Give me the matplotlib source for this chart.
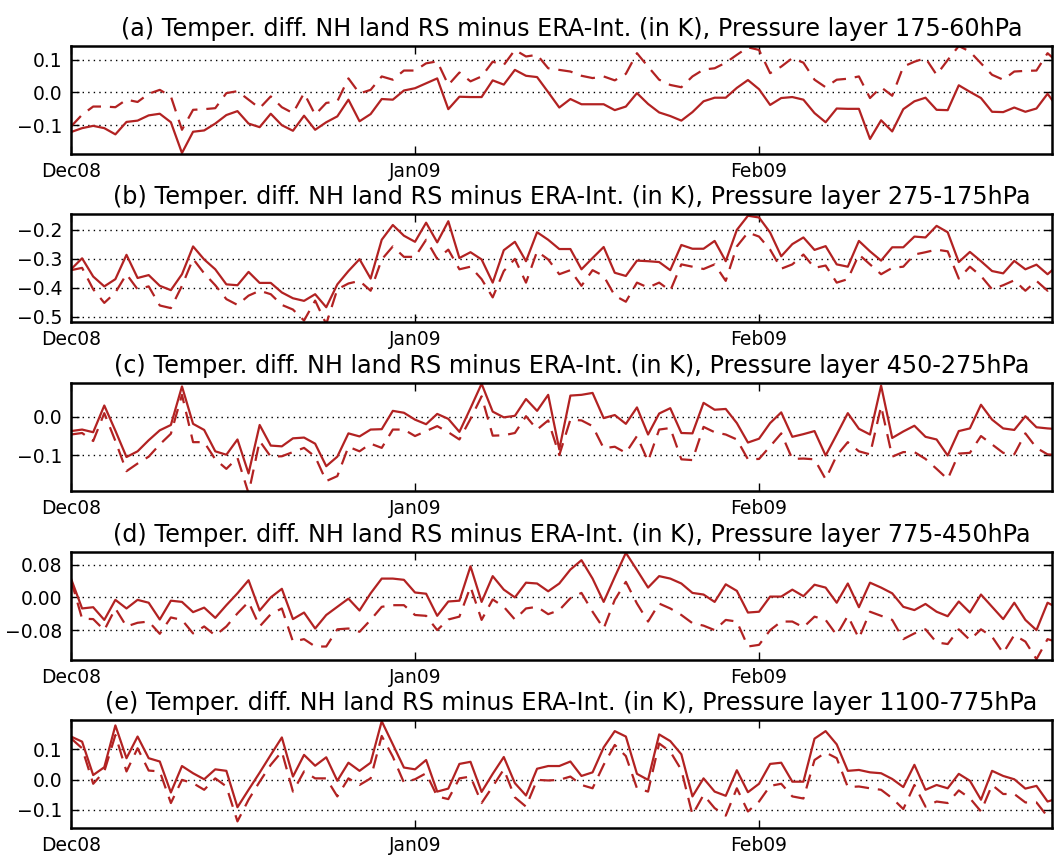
import numpy as np
import pandas as pd
import matplotlib
matplotlib.use("Agg")
from matplotlib import pyplot as plt
import matplotlib.dates as mdates

days = pd.date_range("2008-12-01", periods=90, freq="D")

layers = ["175-60hPa", "275-175hPa", "450-275hPa", "775-450hPa", "1100-775hPa"]
letters = ["a", "b", "c", "d", "e"]

a_solid = [-0.121, -0.109, -0.102, -0.109, -0.128, -0.090, -0.086, -0.070, -0.065, -0.091,
           -0.185, -0.120, -0.116, -0.095, -0.069, -0.057, -0.095, -0.106, -0.065, -0.100,
           -0.117, -0.071, -0.114, -0.091, -0.073, -0.022, -0.088, -0.066, -0.020, -0.022,
           0.006, 0.013, 0.028, 0.043, -0.051, -0.013, -0.014, -0.014, 0.037, 0.024,
           0.069, 0.051, 0.047, 0.001, -0.046, -0.020, -0.036, -0.036, -0.036, -0.054,
           -0.043, -0.002, -0.035, -0.061, -0.072, -0.086, -0.060, -0.027, -0.016, -0.016,
           0.014, 0.038, 0.010, -0.038, -0.017, -0.014, -0.022, -0.063, -0.091, -0.049,
           -0.050, -0.050, -0.142, -0.085, -0.119, -0.051, -0.027, -0.016, -0.053, -0.054,
           0.022, 0.002, -0.017, -0.059, -0.060, -0.046, -0.059, -0.049, -0.004, -0.050]
a_dashed = [-0.104, -0.068, -0.043, -0.043, -0.045, -0.022, -0.029, -0.004, 0.008, -0.012,
            -0.114, -0.053, -0.051, -0.048, -0.002, 0.004, -0.022, -0.048, -0.012, -0.045,
            -0.063, -0.002, -0.068, -0.032, -0.027, 0.043, -0.003, 0.008, 0.049, 0.039,
            0.067, 0.067, 0.089, 0.095, 0.023, 0.061, 0.034, 0.049, 0.094, 0.084,
            0.130, 0.110, 0.115, 0.074, 0.069, 0.064, 0.051, 0.044, 0.049, 0.037,
            0.057, 0.120, 0.079, 0.039, 0.023, 0.016, 0.049, 0.070, 0.074, 0.091,
            0.115, 0.138, 0.130, 0.059, 0.079, 0.105, 0.091, 0.039, 0.016, 0.039,
            0.042, 0.049, -0.017, 0.016, -0.010, 0.079, 0.094, 0.105, 0.054, 0.099,
            0.142, 0.125, 0.089, 0.054, 0.039, 0.064, 0.066, 0.067, 0.120, 0.090]

b_solid = [-0.336, -0.298, -0.361, -0.395, -0.370, -0.286, -0.366, -0.356, -0.393, -0.408,
           -0.353, -0.257, -0.302, -0.336, -0.388, -0.391, -0.345, -0.383, -0.383, -0.416,
           -0.436, -0.445, -0.422, -0.467, -0.388, -0.342, -0.301, -0.368, -0.234, -0.183,
           -0.220, -0.241, -0.175, -0.243, -0.170, -0.297, -0.277, -0.302, -0.382, -0.270,
           -0.241, -0.308, -0.208, -0.234, -0.266, -0.266, -0.336, -0.297, -0.259, -0.348,
           -0.359, -0.306, -0.308, -0.311, -0.339, -0.252, -0.265, -0.265, -0.238, -0.308,
           -0.200, -0.151, -0.157, -0.209, -0.291, -0.249, -0.226, -0.269, -0.256, -0.319,
           -0.327, -0.238, -0.274, -0.306, -0.260, -0.260, -0.223, -0.226, -0.186, -0.208,
           -0.311, -0.276, -0.308, -0.342, -0.350, -0.307, -0.336, -0.320, -0.353, -0.320]
b_dashed = [-0.339, -0.331, -0.405, -0.452, -0.416, -0.353, -0.405, -0.395, -0.461, -0.470,
            -0.393, -0.300, -0.350, -0.391, -0.439, -0.459, -0.427, -0.410, -0.422, -0.459,
            -0.475, -0.513, -0.444, -0.525, -0.405, -0.385, -0.376, -0.410, -0.302, -0.257,
            -0.293, -0.293, -0.234, -0.300, -0.268, -0.336, -0.327, -0.370, -0.433, -0.342,
            -0.300, -0.382, -0.274, -0.302, -0.353, -0.339, -0.393, -0.339, -0.359, -0.427,
            -0.448, -0.382, -0.399, -0.382, -0.410, -0.319, -0.327, -0.335, -0.319, -0.376,
            -0.257, -0.209, -0.223, -0.268, -0.334, -0.319, -0.285, -0.331, -0.323, -0.382,
            -0.370, -0.285, -0.319, -0.353, -0.331, -0.327, -0.285, -0.277, -0.268, -0.274,
            -0.368, -0.327, -0.359, -0.405, -0.391, -0.374, -0.410, -0.376, -0.410, -0.370]

c_solid = [-0.037, -0.033, -0.040, 0.030, -0.036, -0.105, -0.090, -0.061, -0.035, -0.021,
           0.080, -0.018, -0.034, -0.090, -0.099, -0.059, -0.148, -0.021, -0.075, -0.077,
           -0.056, -0.054, -0.070, -0.129, -0.104, -0.043, -0.051, -0.033, -0.032, 0.016,
           0.011, -0.007, -0.019, 0.008, -0.005, -0.039, 0.023, 0.087, 0.014, -0.001,
           0.003, 0.047, 0.016, 0.058, -0.085, 0.056, 0.058, 0.063, -0.003, 0.005,
           -0.018, 0.025, -0.046, 0.009, 0.023, -0.042, -0.043, 0.037, 0.019, 0.021,
           -0.016, -0.067, -0.057, -0.016, 0.012, -0.052, -0.045, -0.037, -0.101, -0.046,
           0.010, -0.031, -0.046, 0.082, -0.055, -0.038, -0.023, -0.052, -0.059, -0.101,
           -0.037, -0.030, 0.032, -0.007, -0.030, -0.034, 0.002, -0.027, -0.030, -0.032]
c_dashed = [-0.046, -0.042, -0.063, 0.010, -0.063, -0.142, -0.122, -0.104, -0.072, -0.044,
            0.058, -0.066, -0.066, -0.111, -0.136, -0.107, -0.200, -0.063, -0.104, -0.103,
            -0.092, -0.081, -0.104, -0.168, -0.155, -0.078, -0.090, -0.070, -0.081, -0.033,
            -0.033, -0.050, -0.037, -0.024, -0.040, -0.059, -0.005, 0.054, -0.049, -0.048,
            -0.042, 0.002, -0.033, -0.009, -0.100, -0.007, -0.009, -0.024, -0.082, -0.078,
            -0.094, -0.050, -0.116, -0.033, -0.029, -0.111, -0.113, -0.026, -0.040, -0.046,
            -0.059, -0.111, -0.110, -0.077, -0.043, -0.110, -0.109, -0.111, -0.163, -0.101,
            -0.066, -0.090, -0.098, 0.028, -0.104, -0.092, -0.092, -0.110, -0.136, -0.163,
            -0.096, -0.094, -0.050, -0.072, -0.094, -0.098, -0.043, -0.081, -0.098, -0.100]

d_solid = [0.046, -0.027, -0.024, -0.055, -0.006, -0.027, -0.006, -0.013, -0.054, -0.008,
           -0.011, -0.036, -0.025, -0.050, -0.019, 0.010, 0.042, -0.032, 0.000, 0.021,
           -0.053, -0.037, -0.076, -0.043, -0.023, -0.003, -0.032, 0.010, 0.046, 0.046,
           0.043, 0.012, 0.009, -0.045, -0.010, -0.008, 0.076, -0.011, 0.052, 0.019,
           0.000, 0.036, 0.034, 0.015, 0.034, 0.068, 0.091, 0.046, -0.011, 0.050,
           0.109, 0.067, 0.024, 0.052, 0.046, 0.034, 0.011, 0.007, -0.011, 0.032,
           0.016, -0.037, -0.035, 0.002, 0.002, 0.019, 0.003, 0.031, 0.024, -0.013,
           0.034, -0.024, 0.036, 0.024, 0.010, -0.023, -0.031, -0.016, -0.035, -0.046,
           -0.010, -0.037, 0.007, -0.023, -0.053, -0.013, -0.055, -0.080, -0.013, -0.027]
d_dashed = [0.042, -0.052, -0.053, -0.080, -0.027, -0.071, -0.062, -0.059, -0.089, -0.049,
            -0.055, -0.088, -0.071, -0.093, -0.071, -0.039, -0.011, -0.071, -0.041, -0.027,
            -0.108, -0.102, -0.120, -0.120, -0.078, -0.076, -0.084, -0.055, -0.023, -0.019,
            -0.019, -0.043, -0.045, -0.080, -0.054, -0.047, 0.026, -0.055, -0.005, -0.023,
            -0.054, -0.027, -0.023, -0.041, -0.031, -0.002, 0.011, -0.035, -0.076, -0.006,
            0.038, -0.015, -0.059, -0.015, -0.027, -0.043, -0.063, -0.069, -0.080, -0.055,
            -0.059, -0.120, -0.116, -0.080, -0.059, -0.059, -0.073, -0.047, -0.055, -0.092,
            -0.045, -0.100, -0.035, -0.045, -0.055, -0.102, -0.088, -0.078, -0.110, -0.114,
            -0.078, -0.104, -0.078, -0.096, -0.136, -0.092, -0.108, -0.151, -0.102, -0.110]

e_solid = [0.143, 0.126, 0.015, 0.041, 0.180, 0.071, 0.143, 0.071, 0.060, -0.043,
           0.045, 0.021, 0.001, 0.034, 0.029, -0.092, -0.034, 0.023, 0.082, 0.140,
           0.010, 0.082, 0.046, 0.074, -0.004, 0.056, 0.029, 0.056, 0.194, 0.117,
           0.040, 0.034, 0.065, -0.040, -0.030, 0.052, 0.059, -0.041, 0.019, 0.075,
           -0.012, -0.053, 0.036, 0.045, 0.045, 0.060, 0.012, 0.024, 0.107, 0.161,
           0.143, 0.019, -0.001, 0.150, 0.128, 0.084, -0.056, 0.004, -0.040, -0.054,
           0.031, -0.042, -0.014, 0.052, 0.056, -0.007, -0.007, 0.136, 0.161, 0.117,
           0.029, 0.032, 0.024, 0.021, 0.002, -0.025, 0.049, -0.034, -0.018, -0.029,
           0.019, -0.004, -0.067, 0.029, 0.012, 0.001, -0.030, -0.021, -0.073, -0.062]
e_dashed = [0.137, 0.104, -0.014, 0.027, 0.148, 0.027, 0.104, 0.030, 0.027, -0.078,
            -0.001, -0.012, -0.034, 0.004, -0.023, -0.139, -0.067, -0.007, 0.049, 0.093,
            -0.040, 0.027, 0.004, 0.004, -0.056, 0.004, -0.018, 0.004, 0.145, 0.076,
            -0.010, 0.001, 0.021, -0.056, -0.065, 0.004, 0.010, -0.078, -0.023, 0.034,
            -0.059, -0.090, -0.001, -0.003, -0.001, 0.010, -0.018, -0.029, 0.049, 0.115,
            0.078, -0.029, -0.040, 0.120, 0.093, 0.032, -0.117, -0.051, -0.095, -0.120,
            -0.029, -0.106, -0.073, -0.021, -0.014, -0.056, -0.063, 0.065, 0.090, 0.071,
            -0.025, -0.023, -0.029, -0.034, -0.062, -0.098, -0.018, -0.090, -0.073, -0.078,
            -0.036, -0.062, -0.106, -0.018, -0.048, -0.048, -0.076, -0.076, -0.123, -0.100]

solids = [a_solid, b_solid, c_solid, d_solid, e_solid]
dashes = [a_dashed, b_dashed, c_dashed, d_dashed, e_dashed]
ylims = [(-0.188, 0.142), (-0.518, -0.145), (-0.194, 0.089), (-0.153, 0.111), (-0.161, 0.198)]
yticks = [[-0.1, 0.0, 0.1], [-0.5, -0.4, -0.3, -0.2], [-0.1, 0.0],
          [-0.08, 0.0, 0.08], [-0.1, 0.0, 0.1]]
ytick_fmt = ["%.1f", "%.1f", "%.1f", "%.2f", "%.1f"]
xtick_dates = ["2008-12-01", "2009-01-01", "2009-02-01"]

W, H = 1055, 857
tops = [46, 214, 383, 552, 720]
height_px = 108
left_px, right_px = 71, 1052
col = "#b22222"

fig = plt.figure(figsize=(W / 100, H / 100), dpi=100)
for k in range(5):
    ax = fig.add_axes([left_px / W, 1 - (tops[k] + height_px) / H,
                       (right_px - left_px) / W, height_px / H])
    ax.plot(days, solids[k], color=col, lw=1.6)
    ax.plot(days, dashes[k], color=col, lw=1.6, dashes=(6.5, 4))
    ax.set_xlim(days[0], days[0] + pd.Timedelta(days=88.4))
    ax.set_ylim(*ylims[k])
    ax.set_yticks(yticks[k])
    ax.set_yticklabels([(ytick_fmt[k] % v).replace("-", "\u2212") for v in yticks[k]])
    ax.set_xticks(pd.to_datetime(xtick_dates))
    ax.xaxis.set_major_formatter(mdates.DateFormatter("%b%y"))
    ax.tick_params(direction="in", top=True, right=True, length=6, width=1,
                   labelsize=13.5, pad=6)
    ax.yaxis.grid(True, linestyle=(0, (1, 3)), color="black", lw=1)
    for s in ax.spines.values():
        s.set_linewidth(1.8)
    t = ax.set_title("(%s) Temper. diff. NH land RS minus ERA-Int. (in K), Pressure layer %s"
                     % (letters[k], layers[k]), fontsize=17.2, pad=7)
    t.set_x(0.51)

fig.savefig("out.png", dpi=100)
